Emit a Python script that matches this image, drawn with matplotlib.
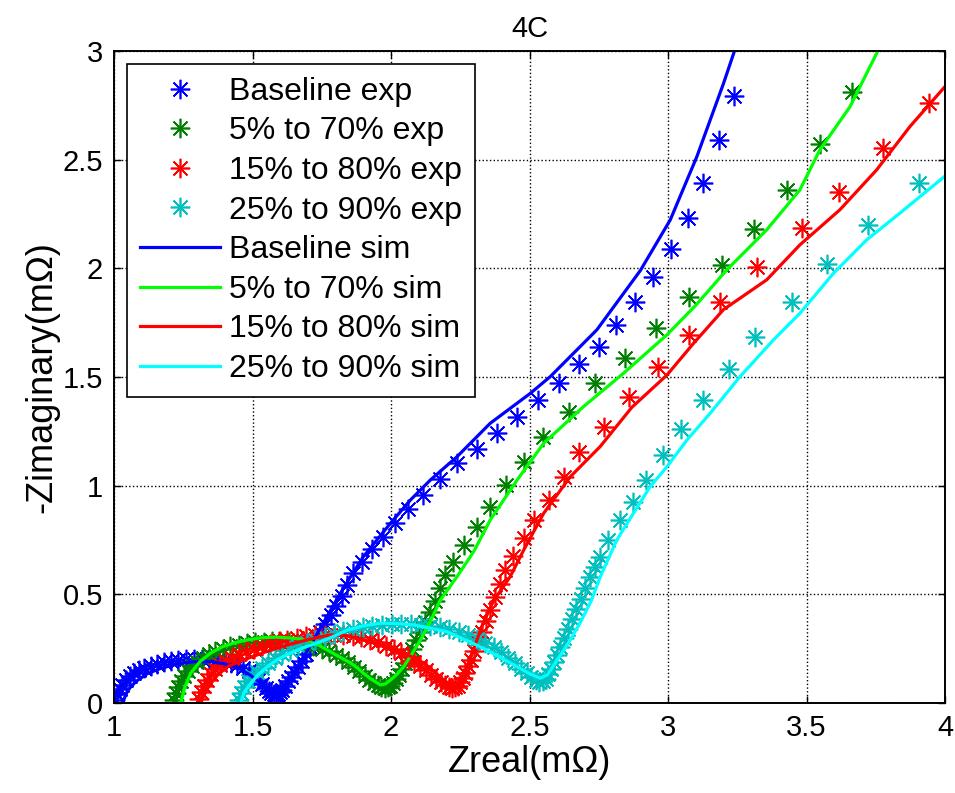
import matplotlib
matplotlib.use("Agg")
import matplotlib.pyplot as plt

plt.rcParams['font.family'] = ['Liberation Sans', 'DejaVu Sans']

# experimental points (Zreal, -Zimag) in mOhm
base_exp_x = [1.005, 1.012, 1.02, 1.03, 1.042, 1.056, 1.072, 1.09, 1.11, 1.132, 1.155, 1.18, 1.205, 1.232,
              1.26, 1.288, 1.316, 1.344, 1.372, 1.398, 1.422, 1.445, 1.466, 1.486, 1.504, 1.52, 1.535, 1.548,
              1.559, 1.568, 1.576, 1.584, 1.592, 1.60, 1.608, 1.617, 1.627, 1.638, 1.65, 1.663, 1.677, 1.692,
              1.708, 1.725, 1.743, 1.762, 1.782, 1.802, 1.822, 1.842, 1.863, 1.896, 1.932, 1.971, 2.016,
              2.06, 2.116, 2.176, 2.238, 2.311, 2.383, 2.455, 2.529, 2.605, 2.677, 2.749, 2.813, 2.881,
              2.945, 3.011, 3.071, 3.125, 3.184, 3.239]
base_exp_y = [0.015, 0.04, 0.065, 0.085, 0.105, 0.122, 0.137, 0.15, 0.162, 0.172, 0.18, 0.187, 0.193, 0.198,
              0.201, 0.203, 0.203, 0.202, 0.199, 0.194, 0.186, 0.175, 0.161, 0.145, 0.127, 0.107, 0.087, 0.068,
              0.055, 0.045, 0.04, 0.038, 0.042, 0.05, 0.062, 0.08, 0.1, 0.12, 0.142, 0.167, 0.195, 0.225,
              0.256, 0.29, 0.325, 0.362, 0.405, 0.448, 0.492, 0.545, 0.597, 0.65, 0.707, 0.765, 0.827,
              0.893, 0.957, 1.029, 1.103, 1.168, 1.244, 1.318, 1.394, 1.471, 1.559, 1.64, 1.74, 1.847,
              1.959, 2.088, 2.233, 2.392, 2.59, 2.793]

g_exp_x = [1.216, 1.222, 1.23, 1.24, 1.252, 1.266, 1.282, 1.30, 1.32, 1.342, 1.366, 1.392, 1.42, 1.45,
           1.48, 1.51, 1.54, 1.57, 1.60, 1.63, 1.66, 1.69, 1.72, 1.75, 1.775, 1.80, 1.823, 1.845, 1.866,
           1.886, 1.905, 1.922, 1.938, 1.952, 1.965, 1.977, 1.988, 1.998, 2.008, 2.018, 2.029, 2.04, 2.052,
           2.064, 2.077, 2.091, 2.106, 2.122, 2.139, 2.157, 2.176, 2.196, 2.225, 2.262, 2.31, 2.358, 2.416,
           2.479, 2.548, 2.641, 2.737, 2.845, 2.957, 3.077, 3.194, 3.312, 3.428, 3.548, 3.663]
g_exp_y = [0.015, 0.045, 0.075, 0.1, 0.125, 0.148, 0.17, 0.19, 0.208, 0.224, 0.238, 0.25, 0.26, 0.268,
           0.274, 0.279, 0.282, 0.284, 0.284, 0.282, 0.278, 0.271, 0.262, 0.25, 0.237, 0.222, 0.205, 0.187,
           0.167, 0.146, 0.126, 0.108, 0.093, 0.082, 0.074, 0.07, 0.072, 0.08, 0.093, 0.11, 0.13, 0.155,
           0.183, 0.215, 0.25, 0.288, 0.328, 0.372, 0.42, 0.47, 0.53, 0.59, 0.65, 0.727, 0.811, 0.903,
           1.003, 1.11, 1.225, 1.34, 1.471, 1.586, 1.724, 1.87, 2.016, 2.18, 2.361, 2.572, 2.813]

r_exp_x = [1.306, 1.314, 1.324, 1.336, 1.35, 1.366, 1.384, 1.404, 1.426, 1.45, 1.476, 1.504, 1.533, 1.563,
           1.594, 1.626, 1.659, 1.692, 1.726, 1.76, 1.794, 1.828, 1.861, 1.893, 1.924, 1.954, 1.983, 2.01,
           2.036, 2.06, 2.083, 2.105, 2.126, 2.145, 2.163, 2.18, 2.195, 2.208, 2.22, 2.231, 2.241, 2.25,
           2.259, 2.268, 2.278, 2.289, 2.301, 2.314, 2.328, 2.343, 2.359, 2.376, 2.393, 2.41, 2.44, 2.479,
           2.515, 2.569, 2.623, 2.677, 2.767, 2.86, 2.965, 3.077, 3.188, 3.32, 3.483, 3.618, 3.775, 3.943]
r_exp_y = [0.02, 0.05, 0.08, 0.108, 0.133, 0.155, 0.175, 0.193, 0.209, 0.224, 0.238, 0.25, 0.262, 0.273,
           0.283, 0.292, 0.3, 0.306, 0.311, 0.314, 0.315, 0.313, 0.309, 0.302, 0.292, 0.279, 0.264, 0.247,
           0.229, 0.21, 0.19, 0.17, 0.15, 0.13, 0.112, 0.096, 0.083, 0.074, 0.07, 0.072, 0.08, 0.095,
           0.115, 0.14, 0.168, 0.2, 0.238, 0.28, 0.325, 0.375, 0.43, 0.487, 0.547, 0.61, 0.676, 0.758,
           0.842, 0.934, 1.041, 1.156, 1.272, 1.41, 1.548, 1.694, 1.847, 2.008, 2.184, 2.353, 2.553, 2.76]

c_exp_x = [1.452, 1.46, 1.47, 1.483, 1.498, 1.515, 1.534, 1.556, 1.58, 1.606, 1.634, 1.664, 1.695, 1.727,
           1.76, 1.794, 1.828, 1.862, 1.897, 1.932, 1.967, 2.002, 2.037, 2.072, 2.107, 2.142, 2.176, 2.21,
           2.244, 2.277, 2.309, 2.34, 2.37, 2.398, 2.424, 2.448, 2.47, 2.49, 2.507, 2.522, 2.535, 2.547,
           2.558, 2.568, 2.578, 2.588, 2.599, 2.611, 2.624, 2.638, 2.653, 2.668, 2.684, 2.70, 2.718, 2.737,
           2.755, 2.785, 2.827, 2.872, 2.921, 2.981, 3.046, 3.125, 3.221, 3.314, 3.446, 3.573, 3.723, 3.907]
c_exp_y = [0.015, 0.045, 0.075, 0.1, 0.122, 0.143, 0.163, 0.185, 0.205, 0.225, 0.243, 0.26, 0.276, 0.29,
           0.304, 0.317, 0.329, 0.339, 0.348, 0.355, 0.36, 0.363, 0.364, 0.363, 0.36, 0.355, 0.348, 0.339,
           0.327, 0.313, 0.296, 0.277, 0.256, 0.233, 0.208, 0.183, 0.158, 0.136, 0.118, 0.105, 0.098, 0.1,
           0.112, 0.132, 0.158, 0.188, 0.222, 0.258, 0.297, 0.34, 0.385, 0.432, 0.48, 0.53, 0.58, 0.627,
           0.673, 0.75, 0.842, 0.926, 1.026, 1.141, 1.26, 1.394, 1.536, 1.686, 1.847, 2.02, 2.2, 2.394]

# simulated curves
base_sim_x = [1.03, 1.05, 1.08, 1.12, 1.17, 1.23, 1.29, 1.35, 1.40, 1.45, 1.49, 1.52, 1.55, 1.575, 1.60,
              1.63, 1.67, 1.72, 1.77, 1.81, 1.854, 1.90, 1.998, 2.07, 2.142, 2.238, 2.358, 2.503, 2.575,
              2.743, 2.90, 3.008, 3.104, 3.20, 3.245]
base_sim_y = [0.0, 0.06, 0.1, 0.135, 0.16, 0.18, 0.19, 0.19, 0.18, 0.16, 0.13, 0.1, 0.065, 0.045, 0.05,
              0.1, 0.18, 0.29, 0.4, 0.49, 0.581, 0.673, 0.827, 0.934, 1.026, 1.133, 1.287, 1.425, 1.502,
              1.717, 1.99, 2.223, 2.514, 2.85, 3.02]

g_sim_x = [1.241, 1.255, 1.277, 1.31, 1.349, 1.39, 1.432, 1.48, 1.53, 1.58, 1.626, 1.66, 1.70, 1.74, 1.77,
           1.81, 1.854, 1.88, 1.902, 1.93, 1.962, 1.98, 1.998, 2.02, 2.045, 2.075, 2.106, 2.14, 2.178, 2.238,
           2.30, 2.358, 2.455, 2.551, 2.695, 2.839, 2.996, 3.10, 3.212, 3.356, 3.476, 3.548, 3.657, 3.765]
g_sim_y = [0.0, 0.07, 0.138, 0.19, 0.23, 0.258, 0.276, 0.29, 0.3, 0.303, 0.3, 0.296, 0.286, 0.265, 0.244,
           0.215, 0.184, 0.16, 0.135, 0.108, 0.083, 0.088, 0.106, 0.13, 0.166, 0.225, 0.29, 0.37, 0.474, 0.581,
           0.7, 0.842, 1.026, 1.195, 1.364, 1.517, 1.694, 1.83, 1.993, 2.177, 2.361, 2.545, 2.744, 3.02]

r_sim_x = [1.313, 1.33, 1.349, 1.375, 1.409, 1.45, 1.493, 1.54, 1.589, 1.64, 1.697, 1.74, 1.78, 1.84, 1.90,
           1.96, 2.022, 2.07, 2.118, 2.16, 2.19, 2.225, 2.24, 2.26, 2.29, 2.33, 2.37, 2.43, 2.479, 2.551,
           2.647, 2.755, 2.869, 2.996, 3.092, 3.20, 3.356, 3.476, 3.62, 3.753, 3.873, 4.005]
r_sim_y = [0.0, 0.05, 0.09, 0.13, 0.166, 0.19, 0.21, 0.232, 0.253, 0.272, 0.29, 0.303, 0.313, 0.31, 0.29,
           0.268, 0.244, 0.215, 0.184, 0.14, 0.106, 0.075, 0.08, 0.12, 0.22, 0.36, 0.47, 0.581, 0.704, 0.873,
           1.041, 1.18, 1.36, 1.509, 1.655, 1.81, 1.947, 2.108, 2.269, 2.453, 2.652, 2.844]

c_sim_x = [1.457, 1.47, 1.493, 1.52, 1.553, 1.59, 1.637, 1.685, 1.733, 1.781, 1.842, 1.90, 1.962, 2.02,
           2.082, 2.14, 2.202, 2.26, 2.322, 2.39, 2.455, 2.50, 2.538, 2.565, 2.592, 2.64, 2.688, 2.724, 2.755,
           2.815, 2.875, 2.935, 2.996, 3.068, 3.152, 3.26, 3.38, 3.476, 3.597, 3.717, 3.837, 4.005]
c_sim_y = [0.0, 0.05, 0.09, 0.13, 0.167, 0.2, 0.23, 0.255, 0.276, 0.3, 0.335, 0.355, 0.367, 0.366,
           0.359, 0.345, 0.328, 0.295, 0.259, 0.213, 0.167, 0.135, 0.114, 0.13, 0.183, 0.275, 0.382, 0.474,
           0.58, 0.75, 0.873, 0.995, 1.087, 1.21, 1.333, 1.502, 1.67, 1.793, 1.977, 2.131, 2.254, 2.43]

labels_exp = ['Baseline exp', '5% to 70% exp', '15% to 80% exp', '25% to 90% exp']
labels_sim = ['Baseline sim', '5% to 70% sim', '15% to 80% sim', '25% to 90% sim']
exp_colors = ['#0000FF', '#008000', '#FF0000', '#00BFBF']
sim_colors = ['#0000FF', '#00FF00', '#FF0000', '#00FFFF']

xticks = [1, 1.5, 2, 2.5, 3, 3.5, 4]
xtick_labels = ['1', '1.5', '2', '2.5', '3', '3.5', '4']
yticks = [0, 0.5, 1, 1.5, 2, 2.5, 3]
ytick_labels = ['0', '0.5', '1', '1.5', '2', '2.5', '3']

fig = plt.figure(figsize=(9.55, 7.93), dpi=100)
ax = fig.add_axes([0.1194, 0.1135, 0.8702, 0.8222])

exp_sets = [(base_exp_x, base_exp_y), (g_exp_x, g_exp_y), (r_exp_x, r_exp_y), (c_exp_x, c_exp_y)]
sim_sets = [(base_sim_x, base_sim_y), (g_sim_x, g_sim_y), (r_sim_x, r_sim_y), (c_sim_x, c_sim_y)]

# asterisk markers like matlab '*'
for (xs, ys), col, lab in zip(exp_sets, exp_colors, labels_exp):
    ax.plot(xs, ys, linestyle='none', marker=(8, 2, 0), markersize=14,
            markeredgewidth=1.2, color=col, label=lab)

for (xs, ys), col, lab in zip(sim_sets, sim_colors, labels_sim):
    ax.plot(xs, ys, '-', color=col, linewidth=2.3, label=lab)

ax.set_xlim(1, 4)
ax.set_ylim(0, 3)
ax.set_xticks(xticks)
ax.set_xticklabels(xtick_labels)
ax.set_yticks(yticks)
ax.set_yticklabels(ytick_labels)
ax.tick_params(direction='in', length=5, width=1, top=True, right=True,
               labelsize=21, pad=8)
ax.grid(True, linestyle=':', color='black', linewidth=1)
for s in ax.spines.values():
    s.set_linewidth(1.4)

ax.set_xlabel('Zreal(m\u03a9)', fontsize=26, labelpad=2)
ax.set_ylabel('-Zimaginary(m\u03a9)', fontsize=26, labelpad=2)
ax.set_title('4C', fontsize=21, pad=10)

leg = ax.legend(loc='upper left', bbox_to_anchor=(0.0156, 0.98), borderaxespad=0,
                fontsize=23, numpoints=1, handlelength=2.5, handletextpad=0.3,
                labelspacing=0.3, borderpad=0.4, fancybox=False, framealpha=1,
                edgecolor='black')
leg.get_frame().set_linewidth(1.2)

fig.savefig('out.png', dpi=100)
